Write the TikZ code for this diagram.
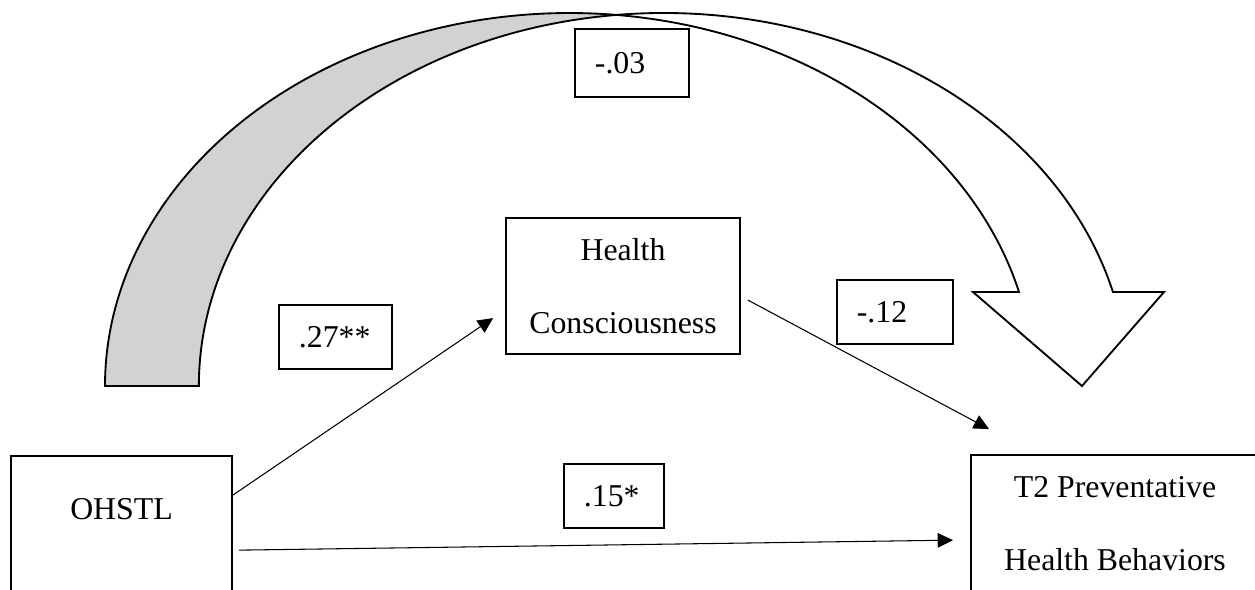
\documentclass[tikz,border=0pt]{standalone}
\usepackage{fontspec}
\setmainfont{Liberation Serif}
\usetikzlibrary{arrows.meta}

\begin{document}
\begin{tikzpicture}[
    x = 0.3774pt, y = 0.3774pt,
    every node/.style = {font = \fontsize{12}{27.7}\selectfont},
    var/.style = {draw, line width = 0.75pt, fill = white, inner sep = 0pt},
    coef/.style = {draw, line width = 0.6pt, fill = white,
        minimum height = 24.2pt, inner xsep = 7.5pt, align = left},
    link/.style = {-{Triangle[length = 5.8pt, width = 5.5pt]}, line width = 0.4pt},
    band/.style = {line width = 0.7pt, line join = miter}
]
\useasboundingbox (0,0) rectangle (1255,589);
\clip (0,0) rectangle (1255,589);

% curved arrow OHSTL -> T2
\filldraw[band, fill = gray!35] (105,203)
    arc[start angle = 180, end angle = 84.2, x radius = 464.5, y radius = 373]
    arc[start angle = 95.8, end angle = 180, x radius = 464.5, y radius = 373] -- cycle;
\filldraw[band, fill = white] (616.5,574.09)
    arc[start angle = 95.8, end angle = 14.6, x radius = 464.5, y radius = 373]
    -- (1164,297) -- (1082,203) -- (973,297) -- (1019,297)
    arc[start angle = 14.6, end angle = 84.2, x radius = 464.5, y radius = 373] -- cycle;

\node[var, minimum width = 88.3pt, minimum height = 51.3pt, align = center] (hc) at (623,303) {Health\\Consciousness};
\node[var, minimum width = 83.4pt, text height = 23.8pt, text depth = 50pt, anchor = north] (ohstl) at (121.5,134) {OHSTL};
\node[var, minimum width = 108.7pt, minimum height = 51.7pt, align = center] (t2) at (1115,65.5) {T2 Preventative\\Health Behaviors};

\node[coef, text width = 28pt, minimum height = 25.7pt] (c03) at (632,526) {-.03};
\node[coef, text width = 27.6pt] (c27) at (335.5,252) {.27**};
\node[coef, text width = 28.8pt] (c12) at (895,277) {-.12};
\node[coef, text width = 22.7pt] (c15) at (614,93) {.15*};

\draw[link] ([yshift = -15.1pt]ohstl.north east) -- ([xshift = -4.5pt, yshift = -12.1pt]hc.west);
\draw[link] ([xshift = 2.6pt, yshift = -5.3pt]hc.east) -- ([xshift = 7.2pt, yshift = 9.4pt]t2.north west);
\draw[link] ([xshift = 2.3pt, yshift = -35.9pt]ohstl.north east) -- ([xshift = -6.4pt, yshift = -32.5pt]t2.north west);
\end{tikzpicture}
\end{document}
